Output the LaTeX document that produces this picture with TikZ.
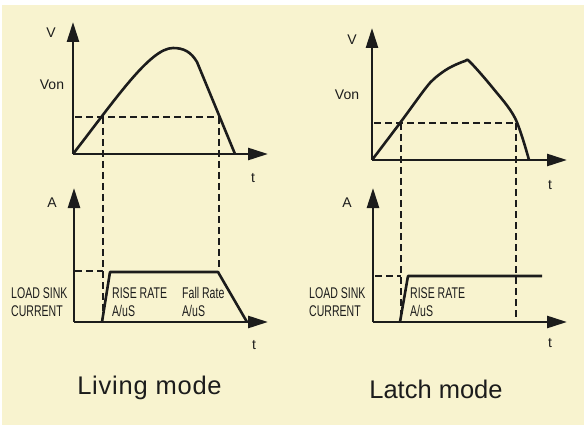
\documentclass[tikz,border=0pt]{standalone}
\usepackage{fontspec}
\setmainfont{Liberation Sans}
\newfontfamily\narrowfont[FakeStretch=0.68]{Liberation Sans}
\usetikzlibrary{arrows.meta}
\definecolor{bgcream}{HTML}{F8F3CF}
\definecolor{ink}{HTML}{1C1C1C}
\tikzset{
  axisline/.style={draw=ink, line width=2.6pt, -{Triangle[length=20pt,width=12pt]}},
  wave/.style={draw=ink, line width=2.6pt, line join=round},
  dashline/.style={draw=ink, line width=2pt, dash pattern=on 7pt off 4pt},
  axlabel/.style={text=ink, inner sep=0pt, font=\fontsize{14}{16}\selectfont},
  smalllabel/.style={text=ink, inner sep=0pt, font=\narrowfont\fontsize{15.5}{17}\selectfont},
  modelabel/.style={text=ink, inner sep=0pt, font=\fontsize{25.5}{28}\selectfont},
}
\begin{document}
\begin{tikzpicture}[x=1pt,y=-1pt]
\useasboundingbox (0,0) rectangle (584,425);
\fill[white] (0,0) rectangle (584,425);
\fill[bgcream] (2,5) rectangle (584,425);

% ---------- Living mode, voltage ----------
\coordinate (LVo) at (73,154);
\coordinate (LVy) at (73,22);
\coordinate (LVx) at (268,154);
\draw[axisline] (LVo) -- (LVy);
\draw[axisline] (LVo) -- (LVx);
\coordinate (LVtop) at (173,48);
\coordinate (LVpk) at (197,62);
\coordinate (LVend) at (235,154);
\draw[wave] (LVo) .. controls (115,100) and (150,48) .. (LVtop)
  .. controls (184,48) and (191,52) .. (LVpk) -- (LVend);
\coordinate (LVd1) at (75,117);
\coordinate (LVd2) at (220,117);
\draw[dashline] (LVd1) -- (LVd2);
\node[axlabel] (LVlab) at (51,33) {V};
\node[axlabel] (LVon) at (52,85) {Von};
\node[axlabel] (LVt) at (253,178) {t};

% ---------- Living mode, current ----------
\coordinate (LAo) at (74,322);
\coordinate (LAy) at (74,188);
\coordinate (LAx) at (268,322);
\draw[axisline] (LAo) -- (LAy);
\draw[axisline] (LAo) -- (LAx);
\coordinate (LA1) at (102,322);
\coordinate (LA2) at (110,272);
\coordinate (LA3) at (218,272);
\coordinate (LA4) at (247,322);
\coordinate (LVv1t) at (103,117);
\coordinate (LVv1b) at (103,318);
\coordinate (LVv2t) at (219,117);
\coordinate (LVv2b) at (219,271);
\coordinate (LAh1) at (75,271);
\coordinate (LAh2) at (103,271);
\draw[dashline] (LVv1t) -- (LVv1b);
\draw[dashline] (LVv2t) -- (LVv2b);
\draw[dashline] (LAh1) -- (LAh2);
\draw[wave] (LA1) -- (LA2) -- (LA3) -- (LA4);
\node[axlabel] (LAlab) at (52,203) {A};
\node[axlabel] (LAt) at (254,345) {t};
\node[smalllabel, anchor=west] (LLoad) at (11,293) {LOAD SINK};
\node[smalllabel, anchor=west] (LCur) at (11,311) {CURRENT};
\node[smalllabel, anchor=west] (LRise) at (112,293) {RISE RATE};
\node[smalllabel, anchor=west] (LRiseU) at (112,311) {A/uS};
\node[smalllabel, anchor=west] (LFall) at (182,293) {Fall Rate};
\node[smalllabel, anchor=west] (LFallU) at (182,311) {A/uS};
\node[modelabel] (Lmode) at (149.5,388) {\addfontfeature{LetterSpace=3}Living mode};

% ---------- Latch mode, voltage ----------
\coordinate (RVo) at (372,160);
\coordinate (RVy) at (372,28);
\coordinate (RVx) at (567,160);
\draw[axisline] (RVo) -- (RVy);
\draw[axisline] (RVo) -- (RVx);
\draw[wave] plot[smooth, tension=0.55] coordinates {(372,160) (400,123) (425,89) (435,78) (449,68) (465,61) (470,62) (492,87) (515,118) (529,160)};
\coordinate (RVd1) at (374,123);
\coordinate (RVd2) at (516,123);
\draw[dashline] (RVd1) -- (RVd2);
\node[axlabel] (RVlab) at (352,40) {V};
\node[axlabel] (RVon) at (347,95) {Von};
\node[axlabel] (RVt) at (550,185) {t};

% ---------- Latch mode, current ----------
\coordinate (RAo) at (373,322);
\coordinate (RAy) at (373,188);
\coordinate (RAx) at (567,322);
\draw[axisline] (RAo) -- (RAy);
\draw[axisline] (RAo) -- (RAx);
\coordinate (RA1) at (400,322);
\coordinate (RA2) at (408,276);
\coordinate (RA3) at (542,276);
\coordinate (RVv1t) at (401,123);
\coordinate (RVv1b) at (401,316);
\coordinate (RVv2t) at (516,123);
\coordinate (RVv2b) at (516,322);
\coordinate (RAh1) at (375,276);
\coordinate (RAh2) at (401,276);
\draw[dashline] (RVv1t) -- (RVv1b);
\draw[dashline] (RVv2t) -- (RVv2b);
\draw[dashline] (RAh1) -- (RAh2);
\draw[wave] (RA1) -- (RA2) -- (RA3);
\node[axlabel] (RAlab) at (347,203) {A};
\node[axlabel] (RAt) at (550,343) {t};
\node[smalllabel, anchor=west] (RLoad) at (309,293) {LOAD SINK};
\node[smalllabel, anchor=west] (RCur) at (309,311) {CURRENT};
\node[smalllabel, anchor=west] (RRise) at (410,293) {RISE RATE};
\node[smalllabel, anchor=west] (RRiseU) at (410,311) {A/uS};
\node[modelabel] (Rmode) at (436,389) {Latch mode};
\end{tikzpicture}
\end{document}
